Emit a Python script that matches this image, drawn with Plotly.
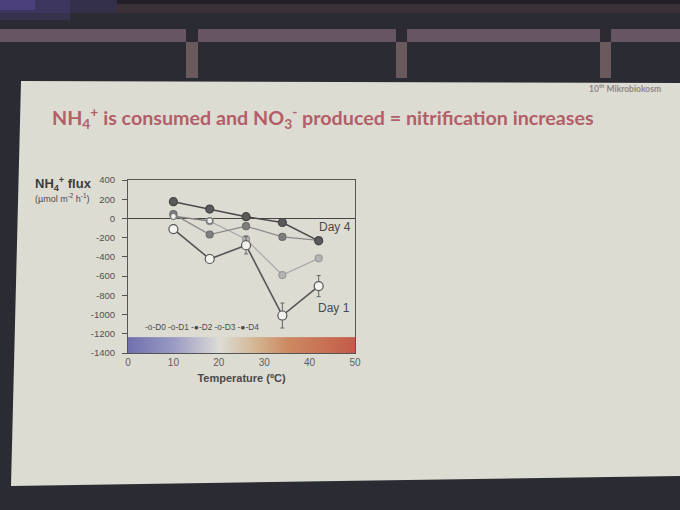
import plotly.graph_objects as go

# --- datos ---
temps = [10, 18, 26, 34, 42]
d0 = [20, -25, None, None, None]
d1 = [-111, -422, -279, -1010, -704]
d1_err = [0, 40, 90, 130, 110]
d2 = [45, -167, -80, -192, -228]
d3 = [28, -28, -216, -589, -415]
d3_err = [0, 0, 35, 0, 0]
d4 = [174, 98, 18, -42, -233]

y_ticks = [400, 200, 0, -200, -400, -600, -800, -1000, -1200, -1400]
y_labels = ['400', '200', '0', '-200', '-400', '-600', '-800', '-1000', '-1200', '-1400']
x_ticks = [0, 10, 20, 30, 40, 50]

scale_temps = [0, 10, 20, 30, 40, 50]
scale_band = [-1400, -1290]

W, H = 680, 510
L, R, T, B = 128, 355, 180, 353

def px(x):
    return (x - L) / (R - L)

def py(y):
    return (B - y) / (B - T)

def box(x0, y0, x1, y1, color, opacity=1):
    return dict(type='rect', xref='paper', yref='paper', layer='below',
                x0=px(x0), x1=px(x1), y0=py(y0), y1=py(y1),
                fillcolor=color, line=dict(width=0), opacity=opacity)

SLIDE = '#dddcd2'
ROOM = '#2b2c33'
AXIS = '#555555'
TEXT = '#4a4a4a'
ROSE = '#b35e68'

fig = go.Figure()

# barra de temperatura (gradiente)
fig.add_trace(go.Heatmap(
    x=scale_temps, y=scale_band, z=[scale_temps, scale_temps],
    zsmooth='best', showscale=False, hoverinfo='skip',
    colorscale=[[0, '#7070ae'], [0.2, '#9a9ac4'], [0.4, '#dcdcd6'],
                [0.55, '#d4b896'], [0.7, '#cc8a62'], [1, '#c45a48']]))

series = [
    ('D3', d3, d3_err, '#a8a8a8', '#b4b4b4', '#9a9a9a', 7, 1.2),
    ('D2', d2, None, '#8a8a8a', '#7e7e7e', '#6e6e6e', 7, 1.2),
    ('D0', d0, None, '#777777', '#eeeeea', '#777777', 6, 1.2),
    ('D1', d1, d1_err, '#555555', '#f2f2ee', '#555555', 9, 1.6),
    ('D4', d4, None, '#4a4a4a', '#5a5a5a', '#454545', 8, 1.6),
]
for name, vals, err, lc, fc, oc, size, lw in series:
    fig.add_trace(go.Scatter(
        x=temps, y=vals, name=name, mode='lines+markers',
        line=dict(color=lc, width=lw),
        marker=dict(size=size, color=fc, line=dict(color=oc, width=1.2)),
        error_y=dict(type='data', array=err, color='#666666', thickness=1, width=2) if err else None,
        showlegend=False))

shapes = [
    # sala oscura
    box(0, 0, W, 13, '#35304a'),
    box(117, 0, W, 4, '#221f28'),
    box(117, 4, W, 13, '#3a3036'),
    box(0, 0, 70, 20, '#4a4080', 0.35),
    box(0, 0, 35, 10, '#5a4c98', 0.5),
    box(0, 29, W, 42, '#665562'),
]
for x0, x1 in [(186, 198), (396, 407), (600, 611)]:
    shapes.append(box(x0, 29, x1, 42, '#2e2a32'))
    shapes.append(box(x0, 42, x1, 78, '#6a5a5e'))
# diapositiva
shapes.append(dict(type='path', xref='paper', yref='paper', layer='below',
                   fillcolor=SLIDE, line=dict(width=0),
                   path=f"M {px(21)},{py(81)} L {px(W)},{py(83)} L {px(W)},{py(476)} "
                        f"L {px(11)},{py(486)} Z"))

fig.update_layout(
    width=W, height=H,
    margin=dict(l=L, r=W - R, t=T, b=H - B),
    paper_bgcolor=ROOM, plot_bgcolor='rgba(0,0,0,0)',
    font=dict(family='Liberation Sans, Arial', color=TEXT),
    shapes=shapes,
    xaxis=dict(range=[0, 50], tickvals=x_ticks, showgrid=False, zeroline=False,
               showline=True, mirror=True, linecolor=AXIS, linewidth=1, ticks='',
               tickfont=dict(size=10, color='#606060'),
               title=dict(text='<b>Temperature (ºC)</b>', font=dict(size=11, color=TEXT), standoff=7)),
    yaxis=dict(range=[-1400, 400], tickvals=y_ticks, ticktext=y_labels, showgrid=False,
               zeroline=True, zerolinecolor='#444444', zerolinewidth=1.2,
               showline=True, mirror=True, linecolor=AXIS, linewidth=1,
               ticks='outside', ticklen=5, tickcolor=AXIS, ticklabelstandoff=5,
               tickfont=dict(size=9.5, color='#505050')),
    annotations=[
        dict(text='<b>NH<sub>4</sub><sup>+</sup> is consumed and NO<sub>3</sub><sup>-</sup> produced = nitrification increases</b>',
             xref='paper', yref='paper', x=px(323), y=py(117), xanchor='center', yanchor='middle',
             showarrow=False, font=dict(family='Lato', size=19.7, color=ROSE)),
        dict(text='<b>10<sup>th</sup> Mikrobiokosm</b>', xref='paper', yref='paper',
             x=px(587), y=py(88), xanchor='left', yanchor='middle', showarrow=False,
             font=dict(family='Lato', size=8.5, color='#8e8686')),
        dict(text='<b>NH<sub>4</sub><sup>+</sup> flux</b>', xref='paper', yref='paper',
             x=px(33), y=py(184), xanchor='left', yanchor='middle', showarrow=False,
             font=dict(size=13, color='#3e3e3e')),
        dict(text='(µmol m<sup>-2</sup> h<sup>-1</sup>)', xref='paper', yref='paper',
             x=px(33), y=py(198), xanchor='left', yanchor='middle', showarrow=False,
             font=dict(size=9, color=TEXT)),
        dict(text='Day 4', x=45.5, y=-89, showarrow=False, font=dict(size=12, color=TEXT)),
        dict(text='Day 1', x=45.4, y=-930, showarrow=False, font=dict(size=12, color=TEXT)),
        dict(text='-o-D0 -o-D1 -●-D2 -o-D3 -●-D4', xref='paper', yref='paper',
             x=px(143), y=py(327), xanchor='left', yanchor='middle', showarrow=False,
             font=dict(size=8.3, color=TEXT)),
    ],
)

fig.write_html("out.html", config={'displayModeBar': False},
               post_script="document.body.style.margin='0';")
